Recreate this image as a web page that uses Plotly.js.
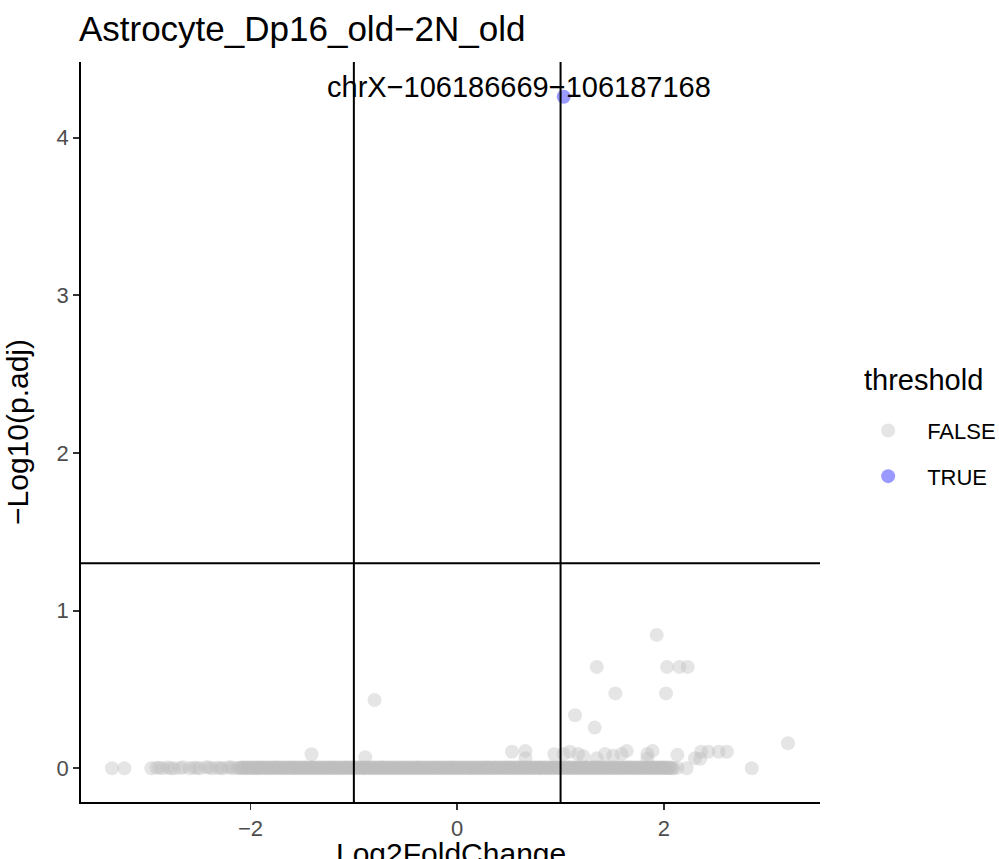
<!DOCTYPE html>
<html>
<head>
<meta charset="utf-8">
<script src="https://cdn.plot.ly/plotly-3.0.1.min.js"></script>
<style>html,body{margin:0;padding:0;background:#fff;}#chart{width:999px;height:859px;}</style>
</head>
<body>
<div id="chart"></div>
<script>
// ---- data ----
const chartTitle = "Astrocyte_Dp16_old\u22122N_old";
const xTitle = "Log2FoldChange";
const yTitle = "\u2212Log10(p.adj)";
const legendTitle = "threshold";
const groupNames = ["FALSE", "TRUE"];

const xTickVals = [-2, 0, 2];
const xTickText = ["\u22122", "0", "2"];
const yTickVals = [0, 1, 2, 3, 4];
const yTickText = ["0", "1", "2", "3", "4"];

const fcThresholds = [-1, 1];
const padjThreshold = 1.30103;

// sparse left tail of non-significant points
const leftTailX = [-3.34,-3.22,-2.96,-2.91,-2.85,-2.80,-2.74,-2.68,-2.59,-2.55,-2.49,-2.43,-2.37,-2.32,-2.27,-2.22,-2.17,-2.13];
const leftTailY = [0,0,0,0.003,0,0.005,0,0.002,0,0.004,0,0.006,0,0.003,0,0.005,0,0.002];

// dense band of non-significant points near -log10(p.adj) = 0 (first layer)
const bandX = [
 -2.09,-2.07,-2.04,-2.02,-1.99,-1.97,-1.94,-1.92,-1.90,-1.87,
 -1.85,-1.82,-1.80,-1.77,-1.75,-1.73,-1.70,-1.68,-1.65,-1.63,
 -1.60,-1.58,-1.56,-1.53,-1.51,-1.48,-1.46,-1.43,-1.41,-1.39,
 -1.36,-1.34,-1.31,-1.29,-1.26,-1.24,-1.22,-1.19,-1.17,-1.14,
 -1.12,-1.09,-1.07,-1.05,-1.02,-1.00,-0.97,-0.95,-0.92,-0.90,
 -0.88,-0.85,-0.83,-0.80,-0.78,-0.75,-0.73,-0.71,-0.68,-0.66,
 -0.63,-0.61,-0.58,-0.56,-0.54,-0.51,-0.49,-0.46,-0.44,-0.41,
 -0.39,-0.37,-0.34,-0.32,-0.29,-0.27,-0.24,-0.22,-0.20,-0.17,
 -0.15,-0.12,-0.10,-0.07,-0.05,-0.03,0.00,0.02,0.05,0.07,
 0.10,0.12,0.14,0.17,0.19,0.22,0.24,0.27,0.29,0.31,
 0.34,0.36,0.39,0.41,0.44,0.46,0.48,0.51,0.53,0.56,
 0.58,0.61,0.63,0.65,0.68,0.70,0.73,0.75,0.78,0.80,
 0.82,0.85,0.87,0.90,0.92,0.95,0.97,0.99,1.02,1.04,
 1.07,1.09,1.12,1.14,1.16,1.19,1.21,1.24,1.26,1.29,
 1.31,1.33,1.36,1.38,1.41,1.43,1.46,1.48,1.50,1.53,
 1.55,1.58,1.60,1.63,1.65,1.67,1.70,1.72,1.75,1.77,
 1.80,1.82,1.84,1.87,1.89,1.92,1.94,1.97,1.99,2.01,
 2.04,2.06,2.09,2.13
];
const bandY = [
 0.000,0.006,0.000,0.006,0.000,0.006,0.000,0.006,0.000,0.006,
 0.000,0.006,0.000,0.006,0.000,0.006,0.000,0.006,0.000,0.006,
 0.000,0.006,0.000,0.006,0.000,0.006,0.000,0.006,0.000,0.006,
 0.000,0.006,0.000,0.006,0.000,0.006,0.000,0.006,0.000,0.006,
 0.000,0.006,0.000,0.006,0.000,0.006,0.000,0.006,0.000,0.006,
 0.000,0.006,0.000,0.006,0.000,0.006,0.000,0.006,0.000,0.006,
 0.000,0.006,0.000,0.006,0.000,0.006,0.000,0.006,0.000,0.006,
 0.000,0.006,0.000,0.006,0.000,0.006,0.000,0.006,0.000,0.006,
 0.000,0.006,0.000,0.006,0.000,0.006,0.000,0.006,0.000,0.006,
 0.000,0.006,0.000,0.006,0.000,0.006,0.000,0.006,0.000,0.006,
 0.000,0.006,0.000,0.006,0.000,0.006,0.000,0.006,0.000,0.006,
 0.000,0.006,0.000,0.006,0.000,0.006,0.000,0.006,0.000,0.006,
 0.000,0.006,0.000,0.006,0.000,0.006,0.000,0.006,0.000,0.006,
 0.000,0.006,0.000,0.006,0.000,0.006,0.000,0.006,0.000,0.006,
 0.000,0.006,0.000,0.006,0.000,0.006,0.000,0.006,0.000,0.006,
 0.000,0.006,0.000,0.006,0.000,0.006,0.000,0.006,0.000,0.006,
 0.000,0.006,0.000,0.006,0.000,0.006,0.000,0.006,0.000,0.006,
 0.000,0.006,0.000,0.003
];

// dense band (second layer, interleaved)
const bandX2 = [
 -2.88,-2.77,-2.65,-2.52,-2.40,-2.29,-2.19,-2.11,
 -2.08,-2.06,-2.03,-2.01,-1.98,-1.96,-1.93,-1.91,-1.89,-1.86,
 -1.84,-1.81,-1.79,-1.76,-1.74,-1.72,-1.69,-1.67,-1.64,-1.62,
 -1.59,-1.57,-1.55,-1.52,-1.50,-1.47,-1.45,-1.42,-1.40,-1.38,
 -1.35,-1.33,-1.30,-1.28,-1.25,-1.23,-1.21,-1.18,-1.16,-1.13,
 -1.11,-1.08,-1.06,-1.04,-1.01,-0.99,-0.96,-0.94,-0.91,-0.89,
 -0.87,-0.84,-0.82,-0.79,-0.77,-0.74,-0.72,-0.70,-0.67,-0.65,
 -0.62,-0.60,-0.57,-0.55,-0.53,-0.50,-0.48,-0.45,-0.43,-0.40,
 -0.38,-0.36,-0.33,-0.31,-0.28,-0.26,-0.23,-0.21,-0.19,-0.16,
 -0.14,-0.11,-0.09,-0.06,-0.04,-0.02,0.01,0.03,0.06,0.08,
 0.11,0.13,0.15,0.18,0.20,0.23,0.25,0.28,0.30,0.32,
 0.35,0.37,0.40,0.42,0.45,0.47,0.49,0.52,0.54,0.57,
 0.59,0.62,0.64,0.66,0.69,0.71,0.74,0.76,0.79,0.81,
 0.83,0.86,0.88,0.91,0.93,0.96,0.98,1.00,1.03,1.05,
 1.08,1.10,1.13,1.15,1.17,1.20,1.22,1.25,1.27,1.30,
 1.32,1.34,1.37,1.39,1.42,1.44,1.47,1.49,1.51,1.54,
 1.56,1.59,1.61,1.64,1.66,1.68,1.71,1.73,1.76,1.78,
 1.81,1.83,1.85,1.88,1.90,1.93,1.95,1.98,2.00,2.02,
 2.05,2.08
];
const bandY2 = [
 0.004,0.000,0.006,0.002,0.005,0.001,0.006,0.003,
 0.003,0.003,0.003,0.003,0.003,0.003,0.003,0.003,0.003,0.003,
 0.003,0.003,0.003,0.003,0.003,0.003,0.003,0.003,0.003,0.003,
 0.003,0.003,0.003,0.003,0.003,0.003,0.003,0.003,0.003,0.003,
 0.003,0.003,0.003,0.003,0.003,0.003,0.003,0.003,0.003,0.003,
 0.003,0.003,0.003,0.003,0.003,0.003,0.003,0.003,0.003,0.003,
 0.003,0.003,0.003,0.003,0.003,0.003,0.003,0.003,0.003,0.003,
 0.003,0.003,0.003,0.003,0.003,0.003,0.003,0.003,0.003,0.003,
 0.003,0.003,0.003,0.003,0.003,0.003,0.003,0.003,0.003,0.003,
 0.003,0.003,0.003,0.003,0.003,0.003,0.003,0.003,0.003,0.003,
 0.003,0.003,0.003,0.003,0.003,0.003,0.003,0.003,0.003,0.003,
 0.003,0.003,0.003,0.003,0.003,0.003,0.003,0.003,0.003,0.003,
 0.003,0.003,0.003,0.003,0.003,0.003,0.003,0.003,0.003,0.003,
 0.003,0.003,0.003,0.003,0.003,0.003,0.003,0.003,0.003,0.003,
 0.003,0.003,0.003,0.003,0.003,0.003,0.003,0.003,0.003,0.003,
 0.003,0.003,0.003,0.003,0.003,0.003,0.003,0.003,0.003,0.003,
 0.003,0.003,0.003,0.003,0.003,0.003,0.003,0.003,0.003,0.003,
 0.003,0.003,0.003,0.003,0.003,0.003,0.003,0.003,0.003,0.003,
 0.002,0.000
];

// scattered non-significant points above the band
const outlierX = [-1.41,-0.89,-0.80,0.53,0.66,0.66,0.94,1.03,1.09,1.17,1.22,1.35,1.43,1.51,1.59,1.64,1.84,1.89,1.84,2.13,2.30,2.35,2.36,2.43,2.53,2.61,2.22,2.85,3.20,1.14,1.33,1.53,2.02,1.35,2.03,2.15,2.23,1.93];
const outlierY = [0.089,0.07,0.433,0.105,0.11,0.063,0.089,0.09,0.105,0.09,0.076,0.063,0.09,0.08,0.09,0.11,0.09,0.11,0.06,0.085,0.063,0.06,0.105,0.105,0.105,0.105,0,0,0.159,0.336,0.258,0.475,0.475,0.643,0.643,0.643,0.643,0.846];

// significant point and its label
const sigX = [1.03];
const sigY = [4.26];
const sigLabels = ["chrX\u2212106186669\u2212106187168"];

// ---- build ----
const falseX = leftTailX.concat(bandX, bandX2, outlierX);
const falseY = leftTailY.concat(bandY, bandY2, outlierY);

const FONT = "Liberation Sans, Arial, sans-serif";

const traces = [
  {
    type: "scatter", mode: "markers", name: groupNames[0], legendgroup: "g0",
    x: falseX, y: falseY,
    marker: {color: "rgb(190,190,190)", opacity: 0.4, size: 14, line: {width: 0}},
    hoverinfo: "x+y"
  },
  {
    type: "scatter", mode: "markers", name: groupNames[1], legendgroup: "g1",
    x: sigX, y: sigY,
    marker: {color: "rgb(0,0,255)", opacity: 0.4, size: 14, line: {width: 0}},
    hoverinfo: "x+y"
  }
];

const shapes = [];
fcThresholds.forEach(v => shapes.push({
  type: "line", xref: "x", yref: "paper", x0: v, x1: v, y0: 0, y1: 1,
  line: {color: "#000", width: 2}
}));
shapes.push({
  type: "line", xref: "paper", yref: "y", x0: 0, x1: 1, y0: padjThreshold, y1: padjThreshold,
  line: {color: "#000", width: 2}
});

const annotations = sigLabels.map((t, i) => ({
  x: sigX[i], y: sigY[i], xref: "x", yref: "y", text: t, showarrow: false,
  xshift: -45, yshift: 10, font: {family: FONT, size: 29, color: "#000"}
}));
// legend title drawn as a text block above the legend entries
annotations.push({
  xref: "paper", yref: "paper", x: 1.057, y: 0.570, xanchor: "left", yanchor: "middle",
  text: legendTitle, showarrow: false, font: {family: FONT, size: 29, color: "#000"}
});
// x-axis title (sits partly below the page edge, as in the reference)
annotations.push({
  xref: "paper", yref: "paper", x: 0.5, y: -0.069, xanchor: "center", yanchor: "middle",
  text: xTitle, showarrow: false, font: {family: FONT, size: 30, color: "#000"}
});

const layout = {
  width: 999, height: 859,
  paper_bgcolor: "#fff", plot_bgcolor: "#fff",
  margin: {l: 81, r: 179, t: 62, b: 57},
  font: {family: FONT, color: "#000"},
  title: {
    text: chartTitle, xref: "container", yref: "container",
    x: 0.079, xanchor: "left", y: 0.981, yanchor: "top",
    font: {family: FONT, size: 35, color: "#000"}
  },
  xaxis: {
    range: [-3.64, 3.51], showgrid: false, zeroline: false,
    showline: true, linecolor: "#000", linewidth: 1.8,
    ticks: "outside", ticklen: 6, tickwidth: 1.8, tickcolor: "#333",
    tickvals: xTickVals, ticktext: xTickText,
    tickfont: {family: FONT, size: 22, color: "#4d4d4d"},
    automargin: false
  },
  yaxis: {
    range: [-0.214, 4.48], showgrid: false, zeroline: false,
    showline: true, linecolor: "#000", linewidth: 1.8,
    ticks: "outside", ticklen: 6, tickwidth: 1.8, tickcolor: "#333",
    tickvals: yTickVals, ticktext: yTickText,
    tickfont: {family: FONT, size: 22, color: "#4d4d4d"},
    title: {text: yTitle, standoff: 19, font: {family: FONT, size: 30, color: "#000"}},
    automargin: false
  },
  showlegend: true,
  legend: {
    xref: "container", yref: "container",
    x: 0.850, xanchor: "left", y: 0.523, yanchor: "top",
    bgcolor: "rgba(0,0,0,0)",
    font: {family: FONT, size: 22, color: "#000"},
    traceorder: "grouped", tracegroupgap: 14,
    itemwidth: 68, itemsizing: "trace"
  },
  shapes: shapes,
  annotations: annotations
};

Plotly.newPlot("chart", traces, layout, {displayModeBar: false, staticPlot: true});
</script>
</body>
</html>
